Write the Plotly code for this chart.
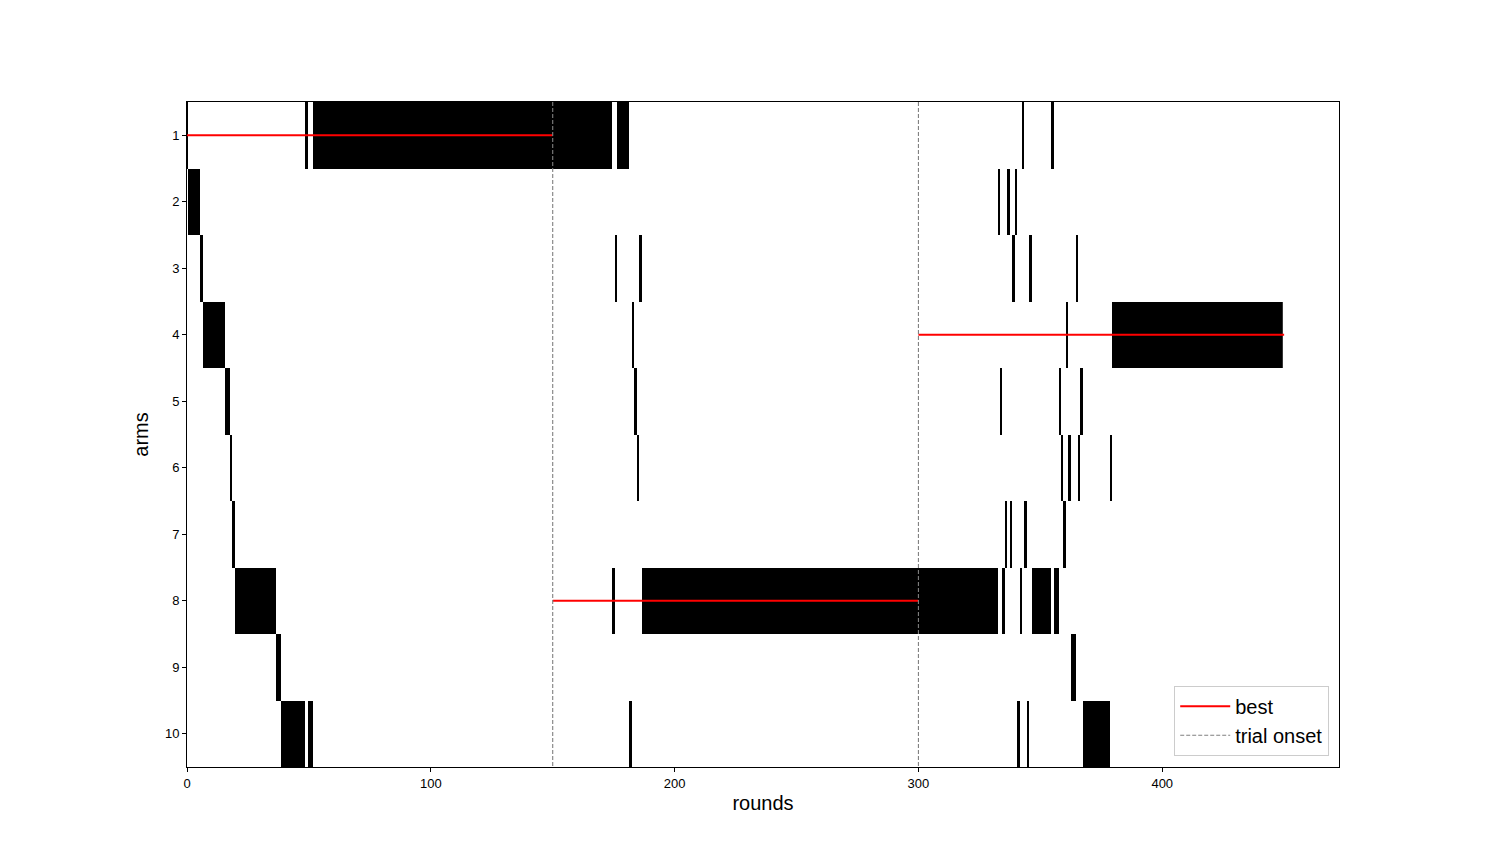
import numpy as np
import plotly.graph_objects as go

# Runs of chosen arm per round (arm, number of consecutive rounds)
run_arms = [1, 2, 3, 4, 5, 6, 7, 8, 9, 10, 1, 10, 1, 8, 3, 1, 10, 4, 5, 6, 3, 8,
            2, 5, 8, 7, 2, 7, 3, 2, 10, 8, 1, 7, 10, 3, 8, 1, 8, 5, 6, 7, 4, 6, 9,
            3, 6, 5, 10, 6, 4]
run_lengths = [1, 5, 1, 9, 2, 1, 1, 17, 2, 10, 1, 2, 123, 1, 1, 5, 1, 1, 1, 1, 1, 146,
               1, 1, 1, 1, 1, 1, 1, 1, 1, 1, 1, 1, 1, 1, 8, 1, 2, 1, 1, 1, 1, 1, 2,
               1, 1, 1, 11, 1, 70]

arms = list(range(1, 11))
best_arms = [1, 8, 4]
trial_onsets = [0, 150, 300, 450]

seq = []
for a, n in zip(run_arms, run_lengths):
    seq += [a] * n
n_rounds = len(seq)
rounds = list(range(n_rounds))

z = np.zeros((len(arms), n_rounds))
for t, a in enumerate(seq):
    z[a - 1, t] = 1

fig = go.Figure()
fig.add_trace(go.Heatmap(
    x=rounds, y=arms, z=z, zmin=0, zmax=1,
    colorscale=[[0, "white"], [1, "black"]],
    showscale=False, zsmooth=False, hoverinfo="skip", showlegend=False,
))

bx, by = [], []
for i, a in enumerate(best_arms):
    bx += [trial_onsets[i], trial_onsets[i + 1], None]
    by += [a, a, None]
fig.add_trace(go.Scatter(x=bx, y=by, mode="lines", name="best",
                         line=dict(color="red", width=2)))

tx, ty = [], []
for v in trial_onsets[1:-1]:
    tx += [v, v, None]
    ty += [0.5, 10.5, None]
fig.add_trace(go.Scatter(x=tx, y=ty, mode="lines", name="trial onset",
                         line=dict(color="gray", width=1.1, dash="4px,2px")))

font = "Liberation Sans, Arial, sans-serif"
fig.update_layout(
    width=1480, height=853,
    margin=dict(l=179, r=149, t=94, b=94),
    paper_bgcolor="white", plot_bgcolor="white",
    font=dict(family=font, color="black"),
    xaxis=dict(range=[0, 472.5], tickvals=[0, 100, 200, 300, 400],
               ticks="outside", ticklen=4, tickcolor="black",
               showline=True, linecolor="black", linewidth=1, mirror=True,
               showgrid=False, zeroline=False, tickfont=dict(size=13),
               title=dict(text="rounds", font=dict(size=20), standoff=6)),
    yaxis=dict(range=[10.5, 0.5], tickvals=arms,
               ticks="outside", ticklen=4, tickcolor="black",
               showline=True, linecolor="black", linewidth=1, mirror=True,
               showgrid=False, zeroline=False, tickfont=dict(size=13),
               title=dict(text="arms", font=dict(size=20), standoff=10)),
    legend=dict(x=0.9915, y=0.017, xanchor="right", yanchor="bottom",
                bgcolor="rgba(255,255,255,0.9)", bordercolor="#cccccc",
                borderwidth=1, font=dict(size=20), itemwidth=50),
)

fig.write_html("out.html")
